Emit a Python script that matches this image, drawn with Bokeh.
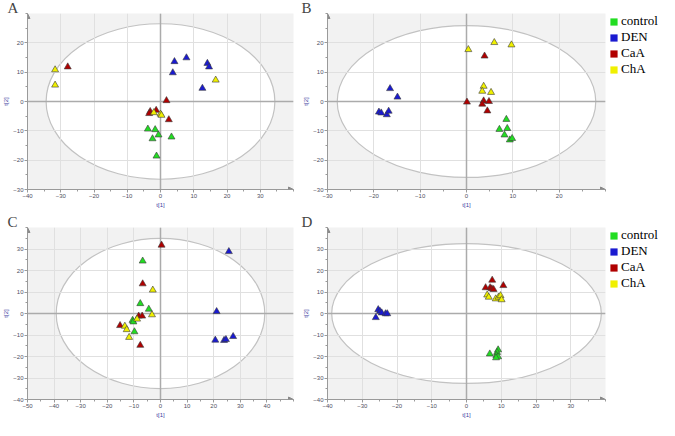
from bokeh.plotting import figure
from bokeh.models import Range1d, FixedTicker, Span, Arrow, NormalHead, Legend, LegendItem
from bokeh.layouts import column, row
from bokeh.embed import file_html
from bokeh.resources import INLINE

GROUPS = ["control", "DEN", "CaA", "ChA"]
COLORS = ["#22dd22", "#1a1ad0", "#b00000", "#f0f000"]

# ---- Panel A ----
a_control_x = [-3.8, -1.6, -0.6, -2.4, 3.3, -1.2]
a_control_y = [-9.4, -9.6, -11.4, -12.7, -12.1, -18.6]
a_den_x = [4.2, 7.8, 3.7, 14.1, 14.6, 12.6]
a_den_y = [13.6, 14.9, 9.8, 13.0, 11.8, 4.5]
a_caa_x = [-27.9, 1.8, -3.1, -1.3, -3.4, 2.5]
a_caa_y = [11.8, 0.3, -3.4, -3.0, -4.1, -6.2]
a_cha_x = [-31.7, -31.7, 16.6, -2.0, 0.0, 0.3]
a_cha_y = [10.8, 5.6, 7.3, -3.8, -4.3, -4.7]

# ---- Panel B ----
b_control_x = [8.6, 7.1, 8.8, 8.2, 9.35, 9.85]
b_control_y = [-6.1, -9.5, -9.2, -11.4, -13.1, -12.6]
b_den_x = [-16.5, -14.9, -18.9, -18.4, -17.2, -16.8]
b_den_y = [4.4, 1.5, -3.6, -3.9, -4.5, -3.3]
b_caa_x = [3.9, 0.1, 3.7, 3.4, 4.85, 4.5]
b_caa_y = [15.5, -0.2, 0.2, -0.9, 0.0, -3.2]
b_cha_x = [0.4, 6.0, 9.7, 3.7, 3.4, 5.3]
b_cha_y = [17.7, 20.1, 19.3, 5.2, 3.5, 3.1]

# ---- Panel C ----
c_control_x = [-6.7, -7.6, -4.4, -10.5, -10.2, -9.8]
c_control_y = [24.4, 4.6, 2.0, -3.2, -3.9, -8.5]
c_den_x = [25.7, 21.1, 20.6, 23.9, 24.6, 27.3]
c_den_y = [28.8, 0.9, -12.4, -12.5, -12.1, -10.7]
c_caa_x = [0.4, -6.7, -8.2, -6.9, -15.2, -7.6]
c_caa_y = [31.8, 13.8, -1.2, -1.2, -5.6, -14.8]
c_cha_x = [-2.9, -3.2, -8.8, -13.4, -12.7, -11.8]
c_cha_y = [10.9, -0.6, -2.6, -5.9, -7.5, -11.1]

# ---- Panel D ----
d_control_x = [6.7, 9.1, 8.8, 8.6, 9.1, 8.5]
d_control_y = [-18.8, -16.9, -18.1, -19.5, -20.1, -20.6]
d_den_x = [-26.1, -25.4, -24.9, -24.4, -23.3, -22.8]
d_den_y = [-1.9, 1.8, 1.0, 0.3, -0.1, -0.1]
d_caa_x = [7.4, 5.5, 6.8, 7.3, 7.8, 10.6]
d_caa_y = [15.5, 12.0, 12.0, 11.5, 11.2, 13.0]
d_cha_x = [5.95, 6.4, 8.4, 9.2, 9.8, 10.1]
d_cha_y = [8.6, 7.6, 6.8, 7.6, 8.3, 6.4]

# axis ranges and Hotelling ellipse semi-axes
A_XRANGE, A_YRANGE, A_ELL = (-40, 40), (-30, 30), (34.4, 26.5)
B_XRANGE, B_YRANGE, B_ELL = (-30, 30), (-30, 30), (27.9, 25.9)
C_XRANGE, C_YRANGE, C_ELL = (-50, 50), (-40, 40), (39.2, 34.9)
D_XRANGE, D_YRANGE, D_ELL = (-40, 40), (-40, 40), (38.8, 32.5)

NAN = float("nan")


def make_panel(letter, xr, yr, ell, series, width, height, bl, br):
    p = figure(width=width, height=height, output_backend="svg", toolbar_location=None,
               x_range=Range1d(*xr), y_range=Range1d(*yr), title=letter,
               min_border_left=bl, min_border_right=br, min_border_top=0, min_border_bottom=0)
    p.title.align = "left"
    p.title.offset = -(bl - 2)
    p.title.standoff = -5
    p.title.text_font = "Liberation Serif"
    p.title.text_font_size = "15px"
    p.title.text_font_style = "normal"
    p.title.text_line_height = 0.9
    p.background_fill_color = "#f2f2f2"
    p.border_fill_color = "white"
    p.outline_line_color = None
    for ax, lab, rng in ((p.xaxis[0], "t[1]", xr), (p.yaxis[0], "t[2]", yr)):
        ax.ticker = FixedTicker(ticks=list(range(rng[0], rng[1], 10)),
                                minor_ticks=list(range(rng[0], rng[1] + 1, 5)))
        ax.axis_label = lab
        ax.axis_label_text_font_size = "6px"
        ax.axis_label_text_font_style = "normal"
        ax.axis_label_text_color = "#3a3aa0"
        ax.axis_label_standoff = 1
        ax.major_label_text_font_size = "6px"
        ax.major_label_text_color = "#505060"
        ax.major_label_standoff = 1
        ax.axis_line_color = "#9a9a9a"
        ax.major_tick_line_color = "#9a9a9a"
        ax.minor_tick_line_color = "#9a9a9a"
        ax.major_tick_in = 0
        ax.major_tick_out = 3
        ax.minor_tick_in = 0
        ax.minor_tick_out = 2
    p.grid.grid_line_color = "#e0e0e0"
    p.grid.grid_line_width = 1
    p.ellipse(x=[0], y=[0], width=[2 * ell[0]], height=[2 * ell[1]],
              fill_color="white", line_color="#c2c2c2", line_width=1.2, level="image")
    p.add_layout(Span(location=0, dimension="height", line_color="#ababab", line_width=1.5, level="underlay"))
    p.add_layout(Span(location=0, dimension="width", line_color="#ababab", line_width=1.5, level="underlay"))
    p.add_layout(Arrow(end=NormalHead(size=5, fill_color="#8a8a8a", line_color="#8a8a8a"),
                       x_start=xr[0], y_start=yr[0], x_end=xr[1], y_end=yr[0],
                       line_color="#9a9a9a", line_width=1))
    p.add_layout(Arrow(end=NormalHead(size=5, fill_color="#8a8a8a", line_color="#8a8a8a"),
                       x_start=xr[0], y_start=yr[0], x_end=xr[0], y_end=yr[1],
                       line_color="#9a9a9a", line_width=1))
    for (xs, ys), c in zip(series, COLORS):
        p.scatter(xs, ys, marker="triangle", size=7, fill_color=c, line_color="#3a3a3a", line_width=0.6)
    return p


def make_legend(width, height, top):
    p = figure(width=width, height=height, output_backend="svg", toolbar_location=None, title=None,
               x_range=Range1d(0, 1), y_range=Range1d(0, 1),
               min_border_left=0, min_border_right=0, min_border_bottom=0, min_border_top=top)
    p.axis.visible = False
    p.grid.visible = False
    p.outline_line_color = None
    p.background_fill_color = "white"
    items = []
    for g, c in zip(GROUPS, COLORS):
        # legend swatch proxy (NaN: nothing is drawn in the plot area)
        r = p.rect(x=[NAN], y=[NAN], width=1, height=1, fill_color=c, line_color=None)
        items.append(LegendItem(label=g, renderers=[r]))
    lg = Legend(items=items, location="top_left", glyph_width=9, glyph_height=9,
                label_standoff=3, label_height=10, label_width=30, spacing=-4, padding=0, margin=0,
                label_text_font="Liberation Serif", label_text_font_size="13px",
                label_text_line_height=0.9,
                label_text_color="black", border_line_color=None, background_fill_alpha=0)
    p.add_layout(lg)
    return p


pA = make_panel("A", A_XRANGE, A_YRANGE, A_ELL,
                [(a_control_x, a_control_y), (a_den_x, a_den_y), (a_caa_x, a_caa_y), (a_cha_x, a_cha_y)],
                299, 210, 22, 6)
pB = make_panel("B", B_XRANGE, B_YRANGE, B_ELL,
                [(b_control_x, b_control_y), (b_den_x, b_den_y), (b_caa_x, b_caa_y), (b_cha_x, b_cha_y)],
                310, 210, 28, 4)
pC = make_panel("C", C_XRANGE, C_YRANGE, C_ELL,
                [(c_control_x, c_control_y), (c_den_x, c_den_y), (c_caa_x, c_caa_y), (c_cha_x, c_cha_y)],
                299, 210, 22, 6)
pD = make_panel("D", D_XRANGE, D_YRANGE, D_ELL,
                [(d_control_x, d_control_y), (d_den_x, d_den_y), (d_caa_x, d_caa_y), (d_cha_x, d_cha_y)],
                310, 210, 28, 4)
lB = make_legend(50, 210, 0)
lD = make_legend(50, 210, 17)

layout = column(row(pA, pB, lB), row(pC, pD, lD))
open("out.html", "w").write(file_html(layout, INLINE))
